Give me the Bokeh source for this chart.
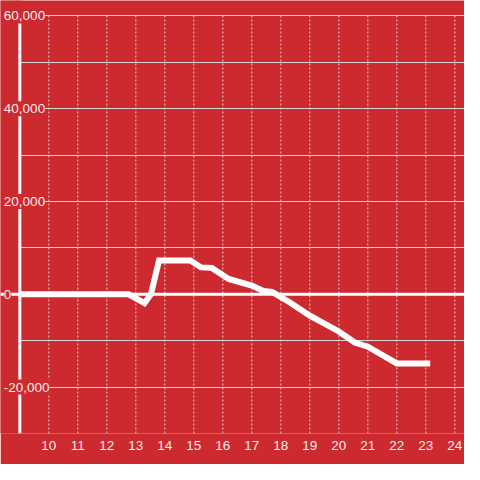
from bokeh.plotting import figure
from bokeh.models import Range1d, FixedTicker, Span, Label, BoxAnnotation
from bokeh.embed import file_html
from bokeh.resources import INLINE

# ---- data ----
hours = [9.0, 12.75, 13.3, 13.52, 13.8, 14.88, 15.25, 15.62, 16.2, 17.0, 17.4, 17.7,
         18.3, 19.0, 20.0, 20.55, 21.0, 22.0, 23.15]
values = [0, 0, -1900, 0, 7300, 7300, 5800, 5700, 3300, 1900, 700, 500,
          -1700, -4600, -8000, -10400, -11300, -14900, -14900]

x_ticks = list(range(10, 25))
y_grid_ticks = list(range(-30000, 60001, 10000))
y_label_values = [60000, 40000, 20000, 0, -20000]
y_label_texts = ["60,000", "40,000", "20,000", "0", "-20,000"]

X_AXIS = 9.0                  # where the vertical axis sits
X_START, X_END = 8.333, 24.333
Y_START, Y_TOP = -30000, 60000
Y_END = 63333

RED = "#cc2a2f"
GRID = "#d4d4d4"
TEXT = "#f3eded"
FONT = "Liberation Sans"

p = figure(width=464, height=464, output_backend="svg", toolbar_location=None,
           x_range=Range1d(X_START, X_END), y_range=Range1d(Y_START, Y_END),
           min_border_left=0, min_border_right=0, min_border_top=0, min_border_bottom=31)

p.background_fill_color = RED
p.border_fill_color = RED
p.outline_line_color = None

# x axis
p.xaxis.ticker = FixedTicker(ticks=x_ticks)
p.xaxis.axis_line_color = None
p.xaxis.major_tick_line_color = None
p.xaxis.minor_tick_line_color = None
p.xaxis.major_label_standoff = 1
p.xaxis.major_label_text_font_size = "13.5px"
p.xaxis.major_label_text_color = TEXT
p.xaxis.major_label_text_font = FONT

# y axis (drawn manually)
p.yaxis.visible = False

p.xgrid.visible = False
p.ygrid.ticker = FixedTicker(ticks=y_grid_ticks)
p.ygrid.grid_line_color = GRID
p.ygrid.grid_line_width = 1

# vertical dotted grid lines between the bottom and the top grid value
p.segment(x0=x_ticks, y0=[Y_START] * len(x_ticks), x1=x_ticks, y1=[Y_TOP] * len(x_ticks),
          line_color=GRID, line_width=1, line_dash="2 2")

p.line(hours, values, line_color="white", line_width=6, line_join="miter")

# mask left of the axis
p.add_layout(BoxAnnotation(right=X_AXIS, fill_color=RED, fill_alpha=1.0, line_color=None))

p.add_layout(Span(location=X_AXIS, dimension="height", line_color="white", line_width=3))
p.add_layout(BoxAnnotation(bottom=Y_TOP, left=X_AXIS - 0.1, right=X_AXIS + 0.1,
                           fill_color=RED, fill_alpha=1.0, line_color=None))
p.add_layout(Span(location=0, dimension="width", line_color="white", line_width=3))

for v, t in zip(y_label_values, y_label_texts):
    p.add_layout(Label(x=X_AXIS, y=v, text=t, x_offset=-16,
                       text_align="left", text_baseline="middle", text_font_size="13.5px",
                       text_color=TEXT, text_font=FONT, background_fill_color=RED,
                       padding=(0, 3)))

open("out.html", "w").write(file_html(p, INLINE))
